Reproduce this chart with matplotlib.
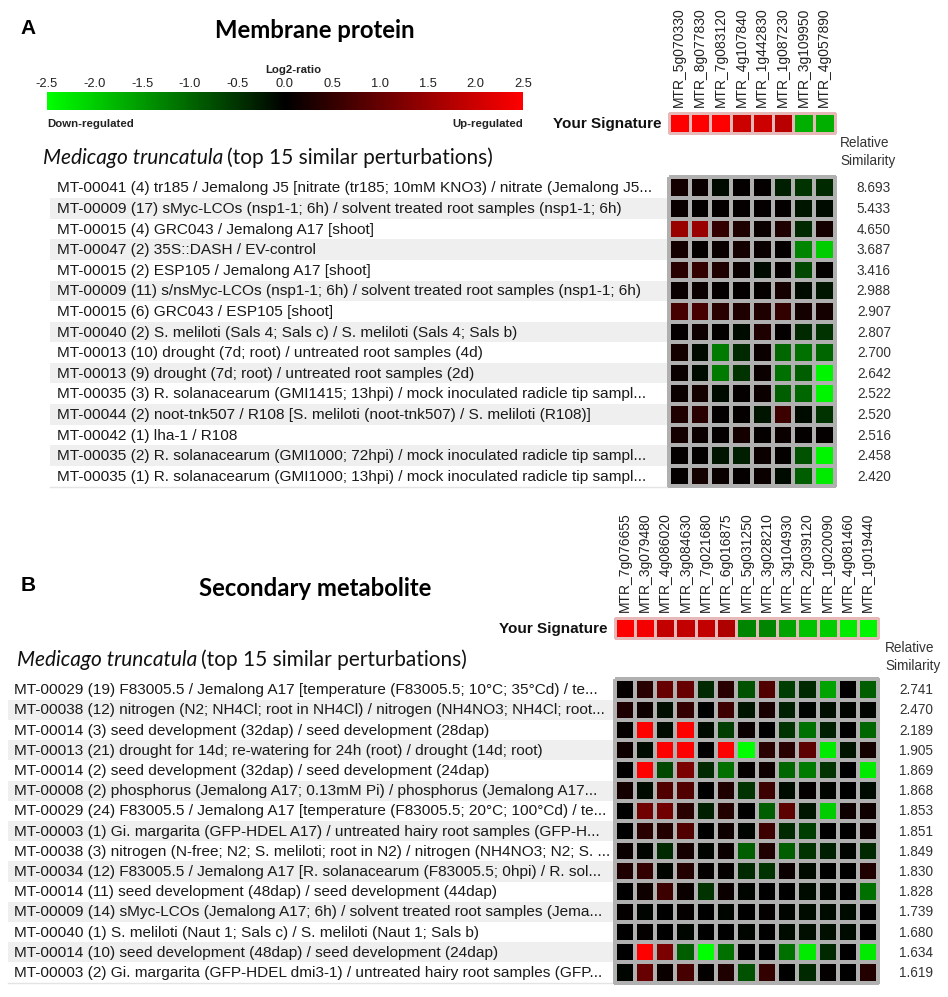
import matplotlib
matplotlib.use('Agg')
import matplotlib.pyplot as plt
import numpy as np
from matplotlib.colors import LinearSegmentedColormap, Normalize
from matplotlib.cm import ScalarMappable

# ---------------- DATA ----------------
genes_a = ["MTR_5g070330", "MTR_8g077830", "MTR_7g083120", "MTR_4g107840",
           "MTR_1g442830", "MTR_1g087230", "MTR_3g109950", "MTR_4g057890"]
signature_a = [2.5, 2.5, 2.5, 2.0, 2.0, 1.8, -1.7, -1.7]
labels_a = [
    "MT-00041 (4) tr185 / Jemalong J5 [nitrate (tr185; 10mM KNO3) / nitrate (Jemalong J5...",
    "MT-00009 (17) sMyc-LCOs (nsp1-1; 6h) / solvent treated root samples (nsp1-1; 6h)",
    "MT-00015 (4) GRC043 / Jemalong A17 [shoot]",
    "MT-00047 (2) 35S::DASH / EV-control",
    "MT-00015 (2) ESP105 / Jemalong A17 [shoot]",
    "MT-00009 (11) s/nsMyc-LCOs (nsp1-1; 6h) / solvent treated root samples (nsp1-1; 6h)",
    "MT-00015 (6) GRC043 / ESP105 [shoot]",
    "MT-00040 (2) S. meliloti (Sals 4; Sals c) / S. meliloti (Sals 4; Sals b)",
    "MT-00013 (10) drought (7d; root) / untreated root samples (4d)",
    "MT-00013 (9) drought (7d; root) / untreated root samples (2d)",
    "MT-00035 (3) R. solanacearum (GMI1415; 13hpi) / mock inoculated radicle tip sampl...",
    "MT-00044 (2) noot-tnk507 / R108 [S. meliloti (noot-tnk507) / S. meliloti (R108)]",
    "MT-00042 (1) lha-1 / R108",
    "MT-00035 (2) R. solanacearum (GMI1000; 72hpi) / mock inoculated radicle tip sampl...",
    "MT-00035 (1) R. solanacearum (GMI1000; 13hpi) / mock inoculated radicle tip sampl...",
]
similarity_a = ["8.693", "5.433", "4.650", "3.687", "3.416", "2.988", "2.907", "2.807",
                "2.700", "2.642", "2.522", "2.520", "2.516", "2.458", "2.420"]
matrix_a = [
    [0.2, 0.1, -0.1, 0.05, 0.05, -0.3, -0.5, -0.4],
    [0.1, 0.05, 0.05, 0.05, 0.05, 0.05, -0.2, -0.1],
    [1.5, 1.5, 0.5, 0.3, 0.1, 0.3, -0.4, 0.2],
    [0.2, 0.05, 0.1, 0.2, 0.1, 0.05, -1.3, -2.0],
    [0.4, 0.5, 0.3, 0.1, -0.1, 0.05, -0.7, 0.05],
    [0.1, 0.1, 0.05, 0.05, 0.05, 0.2, -0.1, -0.2],
    [0.7, 0.7, 0.4, 0.3, 0.3, 0.5, 0.2, 0.2],
    [0.05, 0.15, 0.05, -0.1, 0.3, 0.05, -0.4, -0.5],
    [0.2, -0.1, -1.2, -0.4, 0.1, -1.0, -1.1, -1.0],
    [0.1, -0.1, -1.2, -0.5, 0.1, -1.1, -0.9, -2.4],
    [0.1, 0.2, -0.1, 0.05, 0.1, -0.9, -1.0, -2.4],
    [0.3, 0.4, 0.05, 0.05, -0.2, 0.6, -0.1, -0.5],
    [0.2, 0.1, 0.05, 0.2, 0.05, 0.1, 0.05, 0.05],
    [0.05, 0.05, -0.2, -0.3, 0.1, 0.05, -0.8, -2.4],
    [0.05, 0.2, 0.1, 0.05, 0.1, -0.1, -0.9, -2.3],
]

genes_b = ["MTR_7g076655", "MTR_3g079480", "MTR_4g086020", "MTR_3g084630",
           "MTR_7g021680", "MTR_6g016875", "MTR_5g031250", "MTR_3g028210",
           "MTR_3g104930", "MTR_2g039120", "MTR_1g020090", "MTR_4g081460",
           "MTR_1g019440"]
signature_b = [2.5, 2.4, 1.9, 1.9, 1.9, 1.7, -1.3, -1.3, -1.6, -1.9, -2.0, -2.3, -2.4]
labels_b = [
    "MT-00029 (19) F83005.5 / Jemalong A17 [temperature (F83005.5; 10°C; 35°Cd) / te...",
    "MT-00038 (12) nitrogen (N2; NH4Cl; root in NH4Cl) / nitrogen (NH4NO3; NH4Cl; root...",
    "MT-00014 (3) seed development (32dap) / seed development (28dap)",
    "MT-00013 (21) drought for 14d; re-watering for 24h (root) / drought (14d; root)",
    "MT-00014 (2) seed development (32dap) / seed development (24dap)",
    "MT-00008 (2) phosphorus (Jemalong A17; 0.13mM Pi) / phosphorus (Jemalong A17...",
    "MT-00029 (24) F83005.5 / Jemalong A17 [temperature (F83005.5; 20°C; 100°Cd) / te...",
    "MT-00003 (1) Gi. margarita (GFP-HDEL A17) / untreated hairy root samples (GFP-H...",
    "MT-00038 (3) nitrogen (N-free; N2; S. meliloti; root in N2) / nitrogen (NH4NO3; N2; S. ...",
    "MT-00034 (12) F83005.5 / Jemalong A17 [R. solanacearum (F83005.5; 0hpi) / R. sol...",
    "MT-00014 (11) seed development (48dap) / seed development (44dap)",
    "MT-00009 (14) sMyc-LCOs (Jemalong A17; 6h) / solvent treated root samples (Jema...",
    "MT-00040 (1) S. meliloti (Naut 1; Sals c) / S. meliloti (Naut 1; Sals b)",
    "MT-00014 (10) seed development (48dap) / seed development (24dap)",
    "MT-00003 (2) Gi. margarita (GFP-HDEL dmi3-1) / untreated hairy root samples (GFP...",
]
similarity_b = ["2.741", "2.470", "2.189", "1.905", "1.869", "1.868", "1.853", "1.851",
                "1.849", "1.830", "1.828", "1.739", "1.680", "1.634", "1.619"]
matrix_b = [
    [0.05, 0.4, 1.0, 1.0, -0.4, 0.4, -0.8, 0.8, -0.6, -0.4, -1.6, 0.0, -0.9],
    [0.3, 0.15, -0.15, 0.5, 0.0, 0.6, -0.2, 0.25, -0.3, -0.05, -0.15, -0.05, -0.05],
    [0.05, 2.5, -0.1, 2.5, -0.1, -0.6, 0.1, 0.0, -0.5, -1.1, -0.3, 0.0, -1.0],
    [0.15, -0.1, 2.5, 2.5, 0.0, 2.5, -2.5, 0.4, 0.4, 0.9, -2.3, -0.2, 0.2],
    [0.0, 2.5, -0.7, 1.2, -0.4, -1.1, 0.05, 0.15, -1.0, -1.2, -0.5, 0.0, -2.3],
    [0.2, -0.1, 0.8, 0.8, 0.0, 0.3, -0.5, 0.6, -0.1, 0.05, -0.05, 0.0, -0.1],
    [0.0, 1.1, 1.1, 0.4, -0.3, 0.35, 0.0, -0.9, 0.9, -0.2, -2.0, 0.15, 0.15],
    [0.0, 0.4, 0.35, 0.8, 0.0, 0.15, -0.05, 0.6, -0.4, -0.6, 0.0, 0.0, 0.1],
    [0.1, -0.05, -0.4, 0.2, -0.05, 0.1, -0.9, 0.3, -0.9, -0.5, -0.3, -0.05, -0.4],
    [0.3, 0.5, -0.05, 0.35, 0.05, 0.05, -0.4, -0.5, 0.1, -0.1, 0.0, 0.0, 0.3],
    [0.0, 0.15, 0.6, 0.1, -0.5, 0.1, -0.05, 0.0, 0.0, -0.1, -0.05, 0.0, -1.1],
    [0.05, -0.05, 0.0, 0.05, 0.0, -0.05, 0.0, 0.05, -0.05, -0.1, -0.1, -0.1, 0.0],
    [0.0, 0.05, 0.0, -0.05, 0.0, 0.0, -0.05, 0.0, -0.1, -0.15, -0.15, -0.1, 0.0],
    [0.0, 2.5, 1.2, -0.9, -2.5, -1.1, 0.0, 0.0, -1.1, -2.3, -0.4, 0.0, -2.3],
    [-0.05, 1.0, 0.1, 0.7, 0.05, 0.3, -0.8, 0.5, 0.0, -0.4, 0.05, 0.0, 0.35],
]
cbar_ticks = [-2.5, -2.0, -1.5, -1.0, -0.5, 0.0, 0.5, 1.0, 1.5, 2.0, 2.5]

# ---------------- FIGURE ----------------
W, H = 948, 997
fig = plt.figure(figsize=(W / 100, H / 100), dpi=100)
fig.patch.set_facecolor('white')
ov = fig.add_axes([0, 0, 1, 1])
ov.set_xlim(0, W)
ov.set_ylim(H, 0)
ov.axis('off')

SANS = ['Liberation Sans', 'DejaVu Sans']
CAL = ['Lato', 'DejaVu Sans']

cmap = LinearSegmentedColormap.from_list('gkr', [(0, 1, 0), (0, 0, 0), (1, 0, 0)])
norm = Normalize(-2.5, 2.5)


def px_axes(x0, y0, x1, y1, z=2):
    ax = fig.add_axes([x0 / W, 1 - y1 / H, (x1 - x0) / W, (y1 - y0) / H])
    ax.set_zorder(z)
    return ax


def heat(ax, data, edge, lw=1.4):
    arr = np.asarray(data, dtype=float)
    if arr.ndim == 1:
        arr = arr[None, :]
    m = ax.pcolormesh(arr, cmap=cmap, norm=norm, edgecolors=edge, linewidth=lw)
    m.set_clip_on(False)
    ax.set_xlim(0, arr.shape[1])
    ax.set_ylim(arr.shape[0], 0)
    for sp in ax.spines.values():
        sp.set_visible(False)
    ax.tick_params(length=0)
    return ax


def italic_header(x, y):
    t = ov.text(x, y, "Medicago truncatula", family=CAL, style='italic',
                fontsize=15, va='center', ha='left', color='#111111')
    fig.canvas.draw()
    bb = t.get_window_extent(renderer=fig.canvas.get_renderer())
    ov.text(x + bb.width + 4, y, "(top 15 similar perturbations)", family=CAL,
            fontsize=15, va='center', ha='left', color='#111111')


def panel(letter, lx, ly, title, tx, ty, genes, sig, labels, sims, mat,
          hx0, hy0, cw, rh, sig_y0, lab_x, stripe_x0, sim_x, rel_x, rel_y, head_x, head_y):
    ncol = len(genes)
    nrow = len(labels)
    hx1 = hx0 + cw * ncol
    hy1 = hy0 + rh * nrow
    ov.text(lx, ly, letter, family=SANS, fontweight='bold', fontsize=15, va='center', ha='left')
    ov.text(tx, ty, title, family=CAL, fontweight='bold', fontsize=17.2, va='center', ha='center')
    # signature
    sax = px_axes(hx0, sig_y0, hx1, sig_y0 + 20)
    heat(sax, sig, '#e6b8b8', 1.0)
    sax.set_yticks([])
    sax.set_xticks(np.arange(ncol) + 0.5)
    sax.xaxis.tick_top()
    sax.set_xticklabels(genes, rotation=90, family=SANS, fontsize=10, color='#202020')
    sax.tick_params(axis='x', pad=4)
    ov.text(hx0 - 7, sig_y0 + 11, "Your Signature", family=SANS, fontweight='bold',
            fontsize=11, ha='right', va='center', color='#111111')
    ov.text(rel_x, rel_y, "Relative\nSimilarity", family=SANS, fontsize=9.8,
            ha='left', va='center', linespacing=1.45, color='#333333')
    italic_header(head_x, head_y)
    # stripes & labels
    for i, (lab, s) in enumerate(zip(labels, sims)):
        yc = hy0 + rh * (i + 0.5)
        if i % 2 == 1:
            ov.add_patch(plt.Rectangle((stripe_x0, hy0 + rh * i), hx0 - stripe_x0, rh,
                                       facecolor='#efefef', edgecolor='none', zorder=0))
        ov.text(lab_x, yc + 0.5, lab, family=SANS, fontsize=11.1, ha='left', va='center',
                color='#1a1a1a', zorder=1)
        ov.text(sim_x, yc + 0.5, s, family=SANS, fontsize=9.8, ha='right', va='center',
                color='#333333')
    ov.plot([stripe_x0, hx0], [hy1 + 0.5, hy1 + 0.5], color='#e4e4e4', lw=1, zorder=0)
    hax = px_axes(hx0, hy0, hx1, hy1)
    heat(hax, mat, '#b0b0b0', 1.5)
    hax.set_xticks([])
    hax.set_yticks([])


# ---------------- PANEL A ----------------
panel("A", 20, 28, "Membrane protein", 315, 30, genes_a, signature_a, labels_a,
      similarity_a, matrix_a, hx0=669, hy0=177.5, cw=20.7, rh=20.6, sig_y0=113,
      lab_x=57, stripe_x0=50, sim_x=891, rel_x=840, rel_y=152, head_x=43, head_y=158)

# colour bar
cax = px_axes(47, 92, 523, 110)
cb = fig.colorbar(ScalarMappable(norm=norm, cmap=cmap), cax=cax, orientation='horizontal',
                  ticks=cbar_ticks)
cb.outline.set_visible(False)
cax.xaxis.set_ticks_position('top')
cax.set_xticklabels([f"{t:.1f}" for t in cbar_ticks], family=SANS, fontsize=9.3, color='#222222')
cax.tick_params(axis='x', length=0, pad=1.5)
ov.text(293, 70, "Log2-ratio", family=SANS, fontweight='bold', fontsize=8.2, ha='center',
        va='center', color='#222222')
ov.text(47, 124, "Down-regulated", family=SANS, fontweight='bold', fontsize=8.2, ha='left',
        va='center', color='#222222')
ov.text(523, 124, "Up-regulated", family=SANS, fontweight='bold', fontsize=8.2, ha='right',
        va='center', color='#222222')

# ---------------- PANEL B ----------------
panel("B", 21, 585, "Secondary metabolite", 315, 588, genes_b, signature_b, labels_b,
      similarity_b, matrix_b, hx0=614.5, hy0=679.5, cw=20.3, rh=20.2, sig_y0=618,
      lab_x=14, stripe_x0=8, sim_x=933, rel_x=885, rel_y=657, head_x=17, head_y=660)

fig.savefig("out.png", dpi=100, facecolor='white')
